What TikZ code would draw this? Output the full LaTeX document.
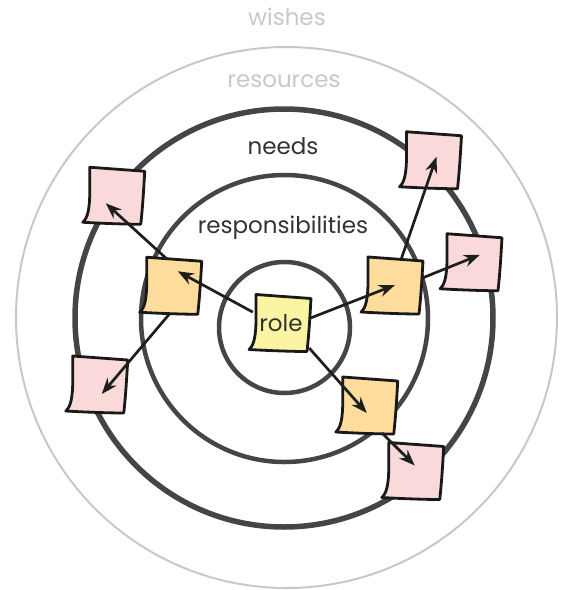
\documentclass[tikz,border=0pt]{standalone}
\usepackage{fontspec}
\setmainfont{Poppins}
\usetikzlibrary{calc,arrows.meta}
\definecolor{ringdark}{HTML}{454545}
\definecolor{ringlight}{HTML}{C8C8C8}
\definecolor{textdark}{HTML}{333333}
\definecolor{arrowc}{HTML}{1E1E1E}
\definecolor{roleyellow}{HTML}{FBF4A2}
\definecolor{resporange}{HTML}{FEDD9C}
\definecolor{needpink}{HTML}{F9D9D9}
\tikzset{
  stickyline/.style={draw=black!90, line width=2.8pt, line join=round},
  stickybox/.style={minimum width=56pt, minimum height=54pt, inner sep=0pt, font=\fontsize{23}{25}\selectfont, text=textdark},
  arr/.style={draw=arrowc, line width=2.7pt, -{Stealth[length=16pt,width=12pt]}},
  ringlabel/.style={font=\fontsize{23}{25}\selectfont},
}
\newcommand\stickynote[5]{%
  \begin{scope}[shift={(#2,#3)}]
    \filldraw[stickyline, fill=#4] (-25,-29) -- (30,-25)
      .. controls (29,-8) and (28,10) .. (26,28)
      .. controls (10,28) and (-15,27) .. (-32,26)
      .. controls (-27,22) and (-25,12) .. (-25,-5) -- cycle;
  \end{scope}
  \node[stickybox] (#1) at (#2,#3) {#5};
}
\begin{document}
\begin{tikzpicture}[x=1pt,y=-1pt]
\useasboundingbox (0,0) rectangle (566,590);
% rings
\draw[ringlight, line width=2pt] (286.5,317.5) circle (270.5);
\draw[ringdark, line width=5.5pt] (284,318) circle (209);
\draw[ringdark, line width=4.5pt] (284.5,318.5) circle (143.5);
\draw[ringdark, line width=4.5pt] (284.5,327.5) circle (65.5);
% labels
\node[ringlabel, text=ringlight] (lwishes) at (287,17) {wishes};
\node[ringlabel, text=ringlight] (lres) at (284,81) {resources};
\node[ringlabel, text=textdark] (lneeds) at (283,146) {needs};
\node[ringlabel, text=textdark] (lresp) at (283,228) {responsibilities};
% sticky notes
\stickynote{role}{281}{323.5}{roleyellow}{role}
\stickynote{ol}{171.75}{286.25}{resporange}{}
\stickynote{or}{393}{286}{resporange}{}
\stickynote{ob}{367.75}{406}{resporange}{}
\stickynote{p1}{114.75}{196.25}{needpink}{}
\stickynote{p2}{97.75}{385}{needpink}{}
\stickynote{p3}{431.5}{160.75}{needpink}{}
\stickynote{p4}{472}{262.75}{needpink}{}
\stickynote{p5}{413.75}{471.5}{needpink}{}
% arrows
\draw[arr] (role.158) -- ($(ol)+(6,-15)$);
\draw[arr] (ol.100) -- ($(p1)+(-9,7)$);
\draw[arr] (ol.266) -- ($(p2)+(4,9)$);
\draw[arr] (role.10) -- ($(or)+(2,-1)$);
\draw[arr] (or.73) -- ($(p3)+(5,-4)$);
\draw[arr] (or.15) -- ($(p4)+(8,-8)$);
\draw[arr] (role.-41) -- ($(ob)+(-1,7)$);
\draw[arr] (ob.-62) -- ($(p5)+(1,-6)$);
\end{tikzpicture}
\end{document}
